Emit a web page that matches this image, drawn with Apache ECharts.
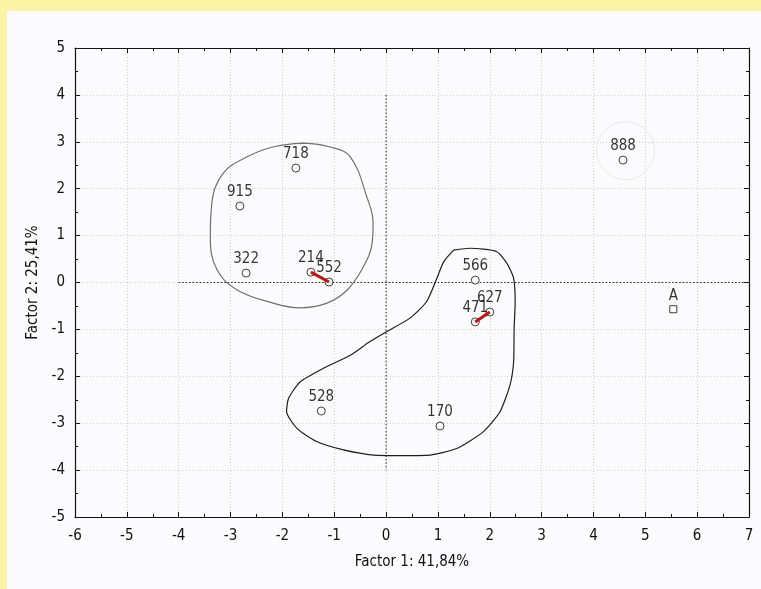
<!DOCTYPE html>
<html>
<head>
<meta charset="utf-8">
<script src="https://cdn.jsdelivr.net/npm/echarts@6/dist/echarts.min.js"></script>
<style>
    html, body { margin: 0; padding: 0; width: 761px; height: 589px; background: #fdf3a4; overflow: hidden; }
    #factor_map { position: absolute; left: 7px; top: 11px; width: 754px; height: 578px; background: #fbfbfd; }
</style>
</head>
<body>
<div id="factor_map"></div>
<script>
// case ids and their factor scores
var ids = ['718', '915', '322', '214', '552', '566', '471', '627', '528', '170', '888'];
var factor1 = [-1.74, -2.82, -2.70, -1.45, -1.10, 1.72, 1.72, 2.00, -1.25, 1.04, 4.57];
var factor2 = [2.44, 1.63, 0.20, 0.22, 0.01, 0.05, -0.84, -0.63, -2.74, -3.06, 2.61];

// supplementary case
var suppIds = ['A'];
var suppF1 = [5.54];
var suppF2 = [-0.57];

// linked pairs (red segments)
var pairs = [['214', '552'], ['471', '627']];

// hand drawn group outlines
var groupLeftX = [-1.60, -1.08, -0.69, -0.37, -0.25, -0.27, -0.44, -0.75, -1.14, -1.66, -2.24, -2.87, -3.26, -3.39, -3.36, -3.14, -2.68, -2.18];
var groupLeftY = [2.97, 2.89, 2.68, 1.82, 1.27, 0.84, 0.33, -0.16, -0.44, -0.54, -0.42, -0.16, 0.27, 0.97, 1.70, 2.33, 2.68, 2.89];
var groupRightX = [1.30, 1.62, 2.13, 2.33, 2.46, 2.49, 2.47, 2.46, 2.39, 2.20, 1.88, 1.36, 0.85, 0.33, -0.24, -0.82, -1.34, -1.72, -1.92, -1.88, -1.66, -1.21, -0.69, -0.31, 0.01, 0.46, 0.78, 0.98, 1.11];
var groupRightY = [0.69, 0.73, 0.66, 0.41, 0.09, -0.41, -0.98, -1.69, -2.19, -2.75, -3.18, -3.54, -3.68, -3.69, -3.68, -3.57, -3.39, -3.11, -2.75, -2.47, -2.12, -1.83, -1.55, -1.26, -1.05, -0.76, -0.41, 0.09, 0.44];

// origin cross lines
var crossV = [[0, 4], [0, -4]];
var crossH = [[-4, 0], [7, 0]];

function zipClosed(xs, ys) {
    var out = xs.map(function (x, i) { return [x, ys[i]]; });
    out.push(out[0]);
    return out;
}

function pos(id) {
    var i = ids.indexOf(id);
    return [factor1[i], factor2[i]];
}

var labelFont = 'DejaVu Sans Condensed, DejaVu Sans, sans-serif';
var axisFont = 'Liberation Sans Narrow, DejaVu Sans Condensed, sans-serif';

var pointData = ids.map(function (id, i) {
    return { name: id, value: [factor1[i], factor2[i]] };
});
var suppData = suppIds.map(function (id, i) {
    return { name: id, value: [suppF1[i], suppF2[i]] };
});

var series = [
    {
        type: 'line', data: crossV, symbol: 'none', silent: true, z: 1,
        lineStyle: { color: '#222', width: 1, type: [1.5, 2] }
    },
    {
        type: 'line', data: crossH, symbol: 'none', silent: true, z: 1,
        lineStyle: { color: '#222', width: 1, type: [1.5, 2] }
    },
    {
        type: 'line', data: zipClosed(groupLeftX, groupLeftY), smooth: 0.4, symbol: 'none', z: 2,
        lineStyle: { color: '#707070', width: 1.2 }
    },
    {
        type: 'line', data: zipClosed(groupRightX, groupRightY), smooth: 0.2, symbol: 'none', z: 2,
        lineStyle: { color: '#1e1e1e', width: 1.2 }
    },
    {
        // faint ring around 888
        type: 'scatter', data: [[4.62, 2.81]], symbol: 'circle', symbolSize: 58, silent: true, z: 2,
        itemStyle: { color: 'rgba(0,0,0,0)', borderColor: '#e4e4e4', borderWidth: 1 }
    }
];

series.push({
    type: 'scatter', data: pointData, symbol: 'circle', symbolSize: 8, z: 4,
    itemStyle: { color: '#ffffff', borderColor: '#111', borderWidth: 1 },
    label: {
        show: true, position: 'top', distance: 2, formatter: '{b}',
        color: '#000', fontSize: 15, fontFamily: labelFont
    }
});
series.push({
    type: 'scatter', data: suppData, symbol: 'rect', symbolSize: 7, z: 4,
    itemStyle: { color: '#ffffff', borderColor: '#111', borderWidth: 1 },
    label: {
        show: true, position: 'top', distance: 2, formatter: '{b}',
        color: '#000', fontSize: 15, fontFamily: labelFont
    }
});

pairs.forEach(function (p) {
    series.push({
        type: 'line', data: [pos(p[0]), pos(p[1])], symbol: 'none', z: 5,
        lineStyle: { color: '#c41010', width: 3 }
    });
});

var axisCommon = {
    type: 'value',
    interval: 1,
    axisLine: { show: true, onZero: false, lineStyle: { color: '#111', width: 1.2 } },
    axisTick: { show: true, inside: true, length: 5, lineStyle: { color: '#111' } },
    minorTick: { show: true, splitNumber: 2, length: 3, lineStyle: { color: '#111' } },
    splitLine: { show: true, lineStyle: { color: '#cfcfcf', type: [1, 2] } },
    nameTextStyle: { color: '#111', fontSize: 15, fontFamily: axisFont },
    axisLabel: { color: '#111', fontSize: 15, fontFamily: axisFont }
};

var myChart = echarts.init(document.getElementById('factor_map'));
var option = {
    animation: false,
    grid: { left: 68, right: 12, top: 37, bottom: 72 },
    xAxis: [
        Object.assign({}, axisCommon, {
            min: -6, max: 7, position: 'bottom',
            name: 'Factor 1: 41,84%', nameLocation: 'middle', nameGap: 38,
            axisLabel: Object.assign({}, axisCommon.axisLabel, { margin: 12 })
        }),
        Object.assign({}, axisCommon, {
            min: -6, max: 7, position: 'top',
            axisLabel: { show: false }, splitLine: { show: false }
        })
    ],
    yAxis: [
        Object.assign({}, axisCommon, {
            min: -5, max: 5, position: 'left',
            name: 'Factor 2: 25,41%', nameLocation: 'middle', nameGap: 34,
            axisLabel: Object.assign({}, axisCommon.axisLabel, { margin: 10 })
        }),
        Object.assign({}, axisCommon, {
            min: -5, max: 5, position: 'right',
            axisLabel: { show: false }, splitLine: { show: false }
        })
    ],
    series: series
};

myChart.setOption(option);
</script>
</body>
</html>
